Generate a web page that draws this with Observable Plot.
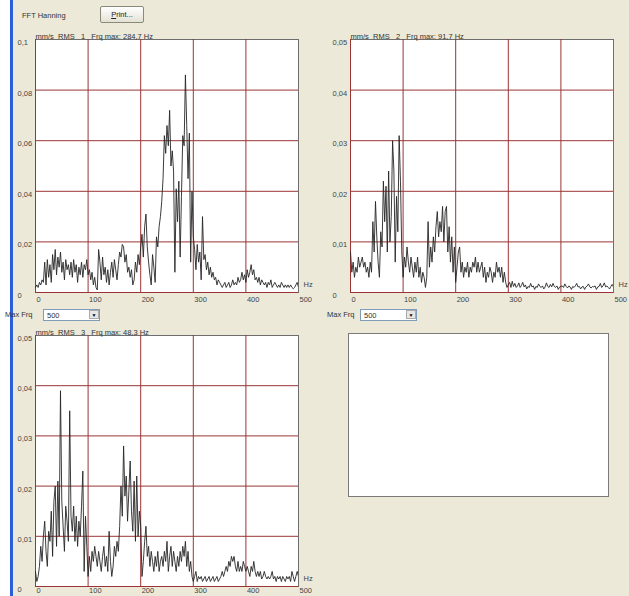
<!DOCTYPE html>
<html><head><meta charset="utf-8">
<script src="https://cdn.jsdelivr.net/npm/d3@7"></script>
<script src="https://cdn.jsdelivr.net/npm/@observablehq/plot@0.6"></script>
<style>
html,body{margin:0;padding:0;}
body{width:629px;height:596px;overflow:hidden;}
#app{position:relative;width:629px;height:596px;background:#ECE9D8;font-family:"Liberation Sans",Arial,sans-serif;color:#333;overflow:hidden;}
.abs{position:absolute;}
.lbl{font-size:7.5px;color:#333;white-space:nowrap;}
.btn{border:1px solid #8a8a7a;border-radius:2px;background:linear-gradient(#ffffff,#e4e1d4);font-size:7.5px;text-align:center;line-height:15px;color:#222;}
.dd{border:1px solid #7f9db9;background:#fff;font-size:7.5px;line-height:11px;padding-left:3px;box-sizing:border-box;}
.dd .arr{position:absolute;right:0;top:0;width:10px;height:9px;background:#e6e6e6;border:1px solid #aaa;font-size:5px;line-height:9px;text-align:center;color:#000;box-sizing:border-box;}
</style>
</head><body>
<div id="app"></div>
<script>
// Frequency resolution of the displayed spectra (Hz per bin)
const binHz = 2.5;
const xTicks = [0, 100, 200, 300, 400, 500];
const xGrid = [0, 100, 200, 300, 400];
const yTicks1 = [0, 0.02, 0.04, 0.06, 0.08, 0.1];
const yGrid1 = [0, 0.02, 0.04, 0.06, 0.08];
const yTicks2 = [0, 0.01, 0.02, 0.03, 0.04, 0.05];
const yGrid2 = [0, 0.01, 0.02, 0.03, 0.04];
const titles = [
  "mm/s\u00a0\u00a0RMS\u00a0\u00a0\u00a01\u00a0\u00a0\u00a0Frq max: 284,7 Hz",
  "mm/s\u00a0\u00a0RMS\u00a0\u00a0\u00a02\u00a0\u00a0\u00a0Frq max: 91,7 Hz",
  "mm/s\u00a0\u00a0RMS\u00a0\u00a0\u00a03\u00a0\u00a0\u00a0Frq max: 48,3 Hz"
];

// Spectrum amplitudes in µm/s (= 0.001 mm/s), one value per 2.5 Hz bin, 0..500 Hz
const rms1Um = [
  2,3,2,4,3,5,4,12,3,
  13,6,11,4,15,9,17,7,14,10,16,8,
  12,5,13,9,11,7,12,6,13,8,11,4,
  10,7,12,6,11,9,13,7,
  9,5,8,3,6,2,1,17,
  12,5,14,7,10,4,9,3,
  8,12,6,13,9,5,11,16,
  14,19,18,12,15,8,10,6,
  9,3,5,12,8,15,11,18,
  23,14,26,31,18,12,7,3,
  15,10,4,22,18,26,30,36,
  45,62,55,66,58,72,50,56,
  48,8,41,28,44,14,38,62,
  58,86,66,45,63,12,40,22,
  17,9,19,12,16,5,30,13,
  15,9,12,7,10,6,8,5,
  6,3,5,4,3,2,3,4,
  2,3,4,2,3,5,3,4,
  3,6,4,5,8,5,7,4,
  9,6,8,11,7,9,5,6,
  4,6,3,5,4,3,4,2,
  4,3,5,2,3,4,3,2,
  3,2,4,3,2,3,2,3,
  2,3,2,1.5,2,3,4,2
];
const rms2Um = [
  8,4,6,3,5,4,7,5,6,
  7,5,6,4,5,3,6,4,14,8,18,11,
  6,3,12,9,22,14,21,8,24,10,15,30,
  24,6,19,12,31,22,8,3,
  7,5,9,6,4,7,5,3,
  6,4,7,3,5,2,4,3,
  1,3,14,5,9,6,11,8,
  13,16,11,14,12,17,10,16,
  17,8,13,6,11,4,9,2,
  5,8,9,4,6,3,5,4,
  6,3,5,4,6,5,7,4,
  6,4,5,6,3,5,2,4,
  3,5,4,2,4,3,6,4,
  5,3,5,2,4,2,1,1.5,
  2,1,2.2,1.2,1.8,1,1.3,1.9,
  1,1.4,2,1.1,1.5,0.7,1.2,1,
  1.8,1.1,1.3,0.6,1.2,1,1.7,1.2,
  1,1.3,0.7,1.1,1.9,1.2,1,1.6,
  1.1,1.8,1.2,1,1.3,0.6,1.1,1.2,
  1.3,1,1.7,1.2,0.9,1.3,1.1,0.6,
  1.2,1,1.3,1.8,1.1,1.2,0.7,1.1,
  1.2,0.6,1.1,1.3,1.7,1.1,0.9,1.2,
  1.1,1.3,0.6,1.1,1.2,1.8,1,1.3,
  1.9,1.1,1.3,1,0.7,1.2,1.6,1.1
];
const rms3Um = [
  3,1,2,4,8,5,10,13,7,
  4,11,9,15,6,17,20,8,21,10,39,17,
  12,7,16,13,9,35,14,11,16,9,14,8,
  13,10,16,23,3,14,8,2,
  6,3,7,5,8,6,4,7,
  5,3,6,8,4,6,3,11,
  5,2,4,8,6,9,7,12,
  20,14,28,18,22,13,19,25,
  15,11,21,9,22,10,15,12,
  2,5,9,12,6,8,4,7,
  5,3,6,4,7,3,5,6,
  4,7,5,9,3,6,8,4,
  7,5,3,6,4,7,5,8,
  6,9,4,7,3,5,2,1,
  2,3,1,2,1.5,2,1,1.5,
  2,1,1.5,2,1,1.5,2,1,
  1.5,2,1,1.5,2,3,2,3,
  4,3,5,4,6,5,6,4,
  3,5,3,4,3,5,4,3,
  4,3,2,4,3,5,3,2,
  3,2,3,1.5,2,3,2,1.5,
  2,1.5,2,3,1.5,2,1,2,
  1.5,2,1,2,1.5,1,2,1.5,
  2,1,3,2,1,2,3,2
];

function toRows(um) {
  return um.map((v, i) => ({hz: i * binHz, mms: v / 1000}));
}
function fmtY(d) { return d === 0 ? "0" : String(d).replace(".", ","); }

const gridColor = "#9b3434";
function chart({rows, yMax, yTicks, yGrid, title, width, height, mt, mb, ml, mr, xPad}) {
  return Plot.plot({
    width, height,
    marginTop: mt, marginBottom: mb, marginLeft: ml, marginRight: mr,
    style: {background: "transparent", fontFamily: "'Liberation Sans', Arial, sans-serif", fontSize: "7.5px", color: "#333", overflow: "visible"},
    x: {domain: [0, 500]},
    y: {domain: [0, yMax]},
    marks: [
      Plot.frame({fill: "white", stroke: "#6e6e6e"}),
      Plot.gridX(xGrid, {stroke: gridColor, strokeOpacity: 1, strokeWidth: 1}),
      Plot.gridY(yGrid, {stroke: gridColor, strokeOpacity: 1, strokeWidth: 1}),
      Plot.lineY(rows, {x: "hz", y: "mms", stroke: "#262626", strokeWidth: 0.9, clip: true}),
      Plot.axisX(xTicks, {tickSize: 0, tickPadding: xPad, textAnchor: "start", dx: 1, label: null, fill: "#444"}),
      Plot.axisY(yTicks, {tickSize: 0, tickPadding: 18, textAnchor: "start", dy: 3, tickFormat: fmtY, label: null, fill: "#444"}),
      Plot.text([title], {frameAnchor: "top-left", dy: -6, textAnchor: "start", fill: "#333"}),
      Plot.text(["Hz"], {frameAnchor: "bottom-right", dx: 5, dy: -6, textAnchor: "start", fill: "#444"})
    ]
  });
}

const app = document.getElementById("app");
function place(el, left, top) {
  el.style.position = "absolute"; el.style.left = left + "px"; el.style.top = top + "px";
  app.appendChild(el);
}
function div(cls, html, css) {
  const d = document.createElement("div");
  d.className = "abs " + cls; d.innerHTML = html; Object.assign(d.style, css); app.appendChild(d); return d;
}

// window chrome
div("", "", {left: "0px", top: "0px", width: "10px", height: "596px", background: "#ffffff"});
div("", "", {left: "10px", top: "0px", width: "3px", height: "596px", background: "#2b5fd9"});
div("lbl", "FFT Hanning", {left: "22px", top: "11px"});
div("btn", "<u>P</u>rint...", {left: "100px", top: "6px", width: "42px", height: "15px"});

place(chart({rows: toRows(rms1Um), yMax: 0.1, yTicks: yTicks1, yGrid: yGrid1, title: titles[0], width: 320, height: 310, mt: 39, mb: 18, ml: 35, mr: 22, xPad: 4}), 0, 0);
place(chart({rows: toRows(rms2Um), yMax: 0.05, yTicks: yTicks2, yGrid: yGrid2, title: titles[1], width: 314, height: 310, mt: 39, mb: 18, ml: 35, mr: 16, xPad: 4}), 315, 0);
place(chart({rows: toRows(rms3Um), yMax: 0.05, yTicks: yTicks2, yGrid: yGrid2, title: titles[2], width: 320, height: 300, mt: 39, mb: 10, ml: 35, mr: 22, xPad: 1}), 0, 296);

// Max Frq selectors
div("lbl", "Max Frq", {left: "5px", top: "310px"});
div("dd", '500<div class="arr">&#9660;</div>', {left: "43px", top: "309px", width: "57px", height: "12px"});
div("lbl", "Max Frq", {left: "327px", top: "310px"});
div("dd", '500<div class="arr">&#9660;</div>', {left: "360px", top: "309px", width: "57px", height: "12px"});

// empty fourth panel
div("", "", {left: "348px", top: "333px", width: "261px", height: "164px", background: "#fff", border: "1px solid #7a7a7a", boxSizing: "border-box"});
</script>
</body></html>
